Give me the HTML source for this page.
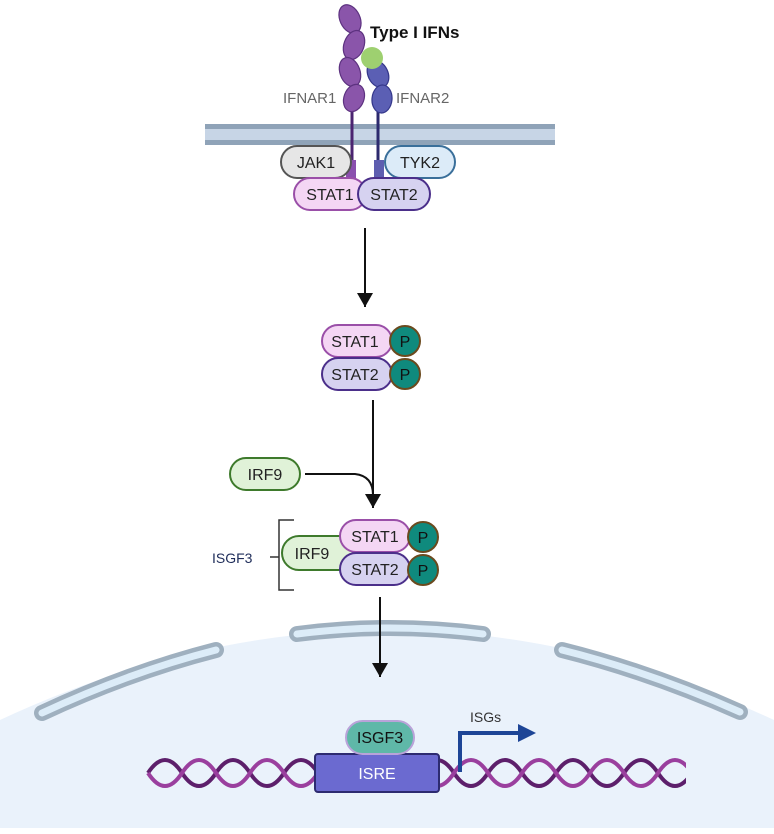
<!DOCTYPE html>
<html><head><meta charset="utf-8"><style>
html,body{margin:0;padding:0;background:#fff}
svg{display:block}
text{font-family:"Liberation Sans",sans-serif}
</style></head><body>
<svg width="774" height="834" viewBox="0 0 774 834" xmlns="http://www.w3.org/2000/svg">
<defs>
<marker id="ah" markerWidth="14" markerHeight="16" refX="14" refY="8" orient="auto" markerUnits="userSpaceOnUse"><path d="M0,0 L14,8 L0,16 z" fill="#111"/></marker>
</defs>
<path d="M0,720 Q387,540 774,720 L774,828 L0,828 Z" fill="#eaf2fb"/>
<rect x="205" y="124" width="350" height="21" fill="#c7d5e6"/>
<rect x="205" y="124" width="350" height="5" fill="#8fa3b8"/>
<rect x="205" y="140" width="350" height="5" fill="#8fa3b8"/>
<line x1="352" y1="105" x2="352" y2="180" stroke="#4b2470" stroke-width="3"/>
<line x1="378" y1="108" x2="378" y2="180" stroke="#2c2a6e" stroke-width="3"/>
<rect x="346" y="160" width="10" height="22" fill="#8a4fae"/>
<rect x="374" y="160" width="10" height="22" fill="#5e5eb0"/>
<g fill="#8a55aa" stroke="#5d3280" stroke-width="1.2">
<ellipse cx="350" cy="19" rx="10" ry="15" transform="rotate(-25 350 19)"/>
<ellipse cx="354" cy="45" rx="10" ry="15" transform="rotate(20 354 45)"/>
<ellipse cx="350" cy="72" rx="10" ry="15" transform="rotate(-20 350 72)"/>
<ellipse cx="354" cy="98" rx="10" ry="14" transform="rotate(20 354 98)"/>
</g>
<g fill="#5b5fb4" stroke="#34378a" stroke-width="1.2">
<ellipse cx="378" cy="74" rx="10" ry="14" transform="rotate(-25 378 74)"/>
<ellipse cx="382" cy="99" rx="10" ry="14" transform="rotate(5 382 99)"/>
</g>
<circle cx="372" cy="58" r="11" fill="#9ed070"/>
<text x="370" y="38" font-size="17" font-weight="bold" fill="#111">Type I IFNs</text>
<text x="283" y="103" font-size="15" fill="#666">IFNAR1</text>
<text x="396" y="103" font-size="15" fill="#666">IFNAR2</text>
<rect x="281" y="146" width="70" height="32" rx="16" fill="#e6e6e6" stroke="#555" stroke-width="2"/>
<text x="316" y="168" font-size="16" text-anchor="middle" fill="#222">JAK1</text>
<rect x="385" y="146" width="70" height="32" rx="16" fill="#dcebf8" stroke="#3a6f9a" stroke-width="2"/>
<text x="420" y="168" font-size="16" text-anchor="middle" fill="#222">TYK2</text>
<rect x="294" y="178" width="72" height="32" rx="16" fill="#f4d6f4" stroke="#9a4fa8" stroke-width="2"/>
<text x="330" y="200" font-size="16" text-anchor="middle" fill="#222">STAT1</text>
<rect x="358" y="178" width="72" height="32" rx="16" fill="#d6d2f0" stroke="#4b2f8a" stroke-width="2"/>
<text x="394" y="200" font-size="16" text-anchor="middle" fill="#222">STAT2</text>
<line x1="365" y1="228" x2="365" y2="307" stroke="#111" stroke-width="2" marker-end="url(#ah)"/>
<rect x="322" y="325" width="70" height="32" rx="16" fill="#f4d6f4" stroke="#9a4fa8" stroke-width="2"/>
<text x="355" y="347" font-size="16" text-anchor="middle" fill="#222">STAT1</text>
<rect x="322" y="358" width="70" height="32" rx="16" fill="#d6d2f0" stroke="#4b2f8a" stroke-width="2"/>
<text x="355" y="380" font-size="16" text-anchor="middle" fill="#222">STAT2</text>
<circle cx="405" cy="341" r="15" fill="#0f8a7d" stroke="#6b4a1e" stroke-width="2"/>
<text x="405" y="347" font-size="16" text-anchor="middle" fill="#111">P</text>
<circle cx="405" cy="374" r="15" fill="#0f8a7d" stroke="#6b4a1e" stroke-width="2"/>
<text x="405" y="380" font-size="16" text-anchor="middle" fill="#111">P</text>
<line x1="373" y1="400" x2="373" y2="508" stroke="#111" stroke-width="2" marker-end="url(#ah)"/>
<path d="M305,474 L355,474 Q373,476 373,495" fill="none" stroke="#111" stroke-width="2"/>
<rect x="230" y="458" width="70" height="32" rx="16" fill="#e0f2d8" stroke="#3e7a2c" stroke-width="2"/>
<text x="265" y="480" font-size="16" text-anchor="middle" fill="#222">IRF9</text>
<rect x="282" y="536" width="76" height="34" rx="17" fill="#e0f2d8" stroke="#3e7a2c" stroke-width="2"/>
<text x="312" y="559" font-size="16" text-anchor="middle" fill="#222">IRF9</text>
<rect x="340" y="520" width="70" height="32" rx="16" fill="#f4d6f4" stroke="#9a4fa8" stroke-width="2"/>
<text x="375" y="542" font-size="16" text-anchor="middle" fill="#222">STAT1</text>
<rect x="340" y="553" width="70" height="32" rx="16" fill="#d6d2f0" stroke="#4b2f8a" stroke-width="2"/>
<text x="375" y="575" font-size="16" text-anchor="middle" fill="#222">STAT2</text>
<circle cx="423" cy="537" r="15" fill="#0f8a7d" stroke="#6b4a1e" stroke-width="2"/>
<text x="423" y="543" font-size="16" text-anchor="middle" fill="#111">P</text>
<circle cx="423" cy="570" r="15" fill="#0f8a7d" stroke="#6b4a1e" stroke-width="2"/>
<text x="423" y="576" font-size="16" text-anchor="middle" fill="#111">P</text>
<path d="M294,520 L279,520 L279,590 L294,590 M279,557 L270,557" fill="none" stroke="#333" stroke-width="1.5"/>
<text x="212" y="563" font-size="14" fill="#1f2d5a">ISGF3</text>
<g fill="none" stroke-linecap="round">
<path d="M297,634 Q390,622 483,634" stroke="#9fb0bf" stroke-width="16"/>
<path d="M297,634 Q390,622 483,634" stroke="#dcecf8" stroke-width="7"/>
<path d="M42,713 Q130,672 216,650" stroke="#9fb0bf" stroke-width="16"/>
<path d="M42,713 Q130,672 216,650" stroke="#dcecf8" stroke-width="7"/>
<path d="M562,650 Q650,672 740,712" stroke="#9fb0bf" stroke-width="16"/>
<path d="M562,650 Q650,672 740,712" stroke="#dcecf8" stroke-width="7"/>
</g>
<line x1="380" y1="597" x2="380" y2="677" stroke="#111" stroke-width="2" marker-end="url(#ah)"/>
<g fill="none" stroke-width="4">
<path d="M148,773 q17,-26 34,0 t34,0 t34,0 t34,0 t34,0 t34,0 t34,0 t34,0 t34,0 t34,0 t34,0 t34,0 t34,0 t34,0 t34,0 t34,0" stroke="#5d1f6b"/>
<path d="M148,773 q17,26 34,0 t34,0 t34,0 t34,0 t34,0 t34,0 t34,0 t34,0 t34,0 t34,0 t34,0 t34,0 t34,0 t34,0 t34,0 t34,0" stroke="#9a3f9e"/>
</g>
<rect x="686" y="750" width="60" height="45" fill="#eaf2fb"/>
<rect x="315" y="754" width="124" height="38" rx="3" fill="#6b6ad0" stroke="#2d2b70" stroke-width="2"/>
<text x="377" y="779" font-size="16" text-anchor="middle" fill="#fff">ISRE</text>
<rect x="346" y="721" width="68" height="33" rx="16.5" fill="#5fb8a8" stroke="#b9a3d9" stroke-width="2"/>
<text x="380" y="743" font-size="16" text-anchor="middle" fill="#111">ISGF3</text>
<path d="M460,772 L460,733 L520,733" fill="none" stroke="#1d4596" stroke-width="4"/>
<path d="M518,724 L536,733 L518,742 Z" fill="#1d4596"/>
<text x="470" y="722" font-size="14" fill="#333">ISGs</text>
</svg>
</body></html>
